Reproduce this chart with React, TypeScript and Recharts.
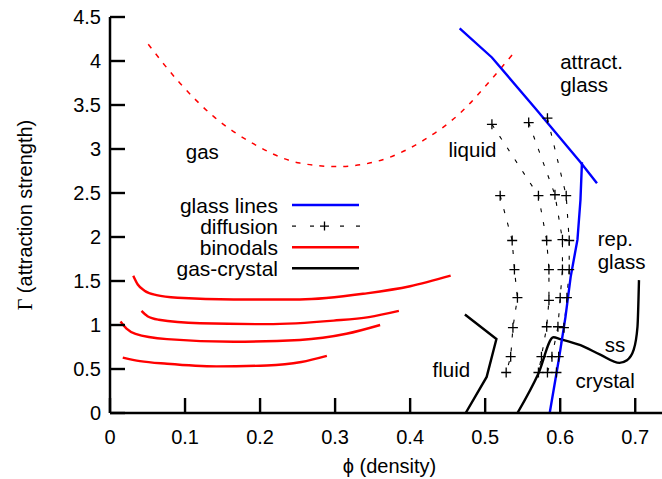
import React from 'react';
import { LineChart, Line, XAxis, YAxis, ReferenceDot, Legend } from 'recharts';

const FONT = '"Liberation Sans", Arial, Helvetica, sans-serif';
const FS = 20;
const FS_LEGEND = 21;
const FS_REGION = 20.5;

// ---- ticks ----
const xTicks = [0, 0.1, 0.2, 0.3, 0.4, 0.5, 0.6, 0.7];
const xTickLabels = ['0', '0.1', '0.2', '0.3', '0.4', '0.5', '0.6', '0.7'];
const yTicks = [0, 0.5, 1, 1.5, 2, 2.5, 3, 3.5, 4, 4.5];
const yTickLabels = ['0', '0.5', '1', '1.5', '2', '2.5', '3', '3.5', '4', '4.5'];

// ---- series (phi, Gamma) ----
const glassAttractive: [number, number][] = [
  [0.466, 4.37], [0.509, 4.04], [0.567, 3.46], [0.627, 2.85], [0.649, 2.61],
];
const glassRepulsive: [number, number][] = [
  [0.629, 2.85], [0.627, 2.42], [0.623, 1.97], [0.614, 1.55], [0.607, 1.09], [0.598, 0.6], [0.586, 0],
];
const diffusionA: [number, number][] = [
  [0.52, 2.47], [0.536, 1.96], [0.539, 1.63], [0.543, 1.31], [0.537, 0.97], [0.534, 0.64], [0.528, 0.46],
];
const diffusionB: [number, number][] = [
  [0.509, 3.28], [0.571, 2.47], [0.582, 1.96], [0.585, 1.63], [0.585, 1.28], [0.582, 0.98], [0.575, 0.64], [0.571, 0.46],
];
const diffusionC: [number, number][] = [
  [0.558, 3.3], [0.593, 2.48], [0.603, 1.97], [0.603, 1.63], [0.6, 1.31], [0.597, 0.98], [0.589, 0.64], [0.583, 0.46],
];
const diffusionD: [number, number][] = [
  [0.583, 3.35], [0.608, 2.47], [0.612, 1.96], [0.612, 1.63], [0.609, 1.31], [0.605, 0.97], [0.598, 0.64], [0.595, 0.46],
];
const binodal1: [number, number][] = [
  [0.031, 1.56], [0.037, 1.46], [0.046, 1.39], [0.062, 1.34], [0.09, 1.31], [0.165, 1.29], [0.253, 1.29], [0.342, 1.36], [0.4, 1.44], [0.454, 1.56],
];
const binodal2: [number, number][] = [
  [0.042, 1.16], [0.05, 1.1], [0.065, 1.06], [0.12, 1.02], [0.209, 1.01], [0.298, 1.05], [0.345, 1.09], [0.385, 1.16],
];
const binodal3: [number, number][] = [
  [0.014, 1.04], [0.022, 0.96], [0.034, 0.9], [0.076, 0.84], [0.165, 0.81], [0.253, 0.83], [0.315, 0.9], [0.36, 1.0],
];
const binodal4: [number, number][] = [
  [0.017, 0.63], [0.04, 0.59], [0.076, 0.56], [0.142, 0.53], [0.209, 0.54], [0.255, 0.58], [0.289, 0.65],
];
const gasSpinodal: [number, number][] = [
  [0.051, 4.19], [0.093, 3.75], [0.138, 3.37], [0.191, 3.06], [0.253, 2.84], [0.302, 2.8], [0.356, 2.86], [0.418, 3.1], [0.467, 3.41], [0.507, 3.78], [0.54, 4.11],
];
const fluidBoundary: [number, number][] = [
  [0.473, 1.12], [0.515, 0.84], [0.502, 0.41], [0.474, 0],
];
const crystalBoundary: [number, number][] = [
  [0.543, 0], [0.571, 0.45], [0.591, 0.86], [0.6, 0.84], [0.627, 0.77], [0.654, 0.66], [0.679, 0.57], [0.689, 0.6], [0.698, 0.72], [0.703, 0.98], [0.705, 1.51],
];

type RegionLabel = { text: string; x: number; y: number; anchor: 'start' | 'middle' | 'end' };
const regionLabels: RegionLabel[] = [
  { text: 'gas', x: 0.123, y: 2.977, anchor: 'middle' },
  { text: 'liquid', x: 0.483, y: 2.99, anchor: 'middle' },
  { text: 'attract.', x: 0.6, y: 3.994, anchor: 'start' },
  { text: 'glass', x: 0.6, y: 3.733, anchor: 'start' },
  { text: 'rep.', x: 0.65, y: 1.983, anchor: 'start' },
  { text: 'glass', x: 0.65, y: 1.722, anchor: 'start' },
  { text: 'fluid', x: 0.455, y: 0.489, anchor: 'middle' },
  { text: 'ss', x: 0.673, y: 0.784, anchor: 'middle' },
  { text: 'crystal', x: 0.66, y: 0.375, anchor: 'middle' },
];

const toPts = (arr: [number, number][]) => arr.map(([x, y]) => ({ x, y }));

const TICK = 15;

const BottomTick = (props: any) => {
  const { x, y, index } = props;
  return (
    <g>
      <line x1={x} y1={y} x2={x} y2={y - TICK} stroke="#000" strokeWidth={2.4} />
      <text x={x} y={y + 24} textAnchor="middle" dominantBaseline="central" fontSize={FS} fontFamily={FONT} fill="#000">
        {xTickLabels[index]}
      </text>
    </g>
  );
};
const TopTick = (props: any) => {
  const { x, y } = props;
  return <line x1={x} y1={y} x2={x} y2={y + TICK} stroke="#000" strokeWidth={2.4} />;
};
const LeftTick = (props: any) => {
  const { x, y, index } = props;
  return (
    <g>
      <line x1={x} y1={y} x2={x + TICK} y2={y} stroke="#000" strokeWidth={2.4} />
      <text x={x - 9} y={y} textAnchor="end" dominantBaseline="central" fontSize={FS} fontFamily={FONT} fill="#000">
        {yTickLabels[index]}
      </text>
    </g>
  );
};
const RightTick = (props: any) => {
  const { x, y } = props;
  return <line x1={x} y1={y} x2={x - TICK} y2={y} stroke="#000" strokeWidth={2.4} />;
};

const PlusDot = (props: any) => {
  const { cx, cy, index } = props;
  if (cx == null || cy == null) return null;
  return (
    <path key={`p-${index}-${cx}`} d={`M${cx - 5},${cy}h10M${cx},${cy - 5}v10`} stroke="#000" strokeWidth={1.3} fill="none" />
  );
};

const makeRegionLabel = (l: RegionLabel) => (p: any) => {
  const vb = p.viewBox || { x: 0, y: 0, width: 0, height: 0 };
  return (
    <text x={vb.x + vb.width / 2} y={vb.y + vb.height / 2} textAnchor={l.anchor} dominantBaseline="central" fontSize={FS_REGION} fontFamily={FONT} fill="#000">
      {l.text}
    </text>
  );
};

const legendRows = [
  { name: 'glass lines', color: '#0000ff', kind: 'solid' },
  { name: 'diffusion', color: '#000000', kind: 'diff' },
  { name: 'binodals', color: '#ff0000', kind: 'solid' },
  { name: 'gas-crystal', color: '#000000', kind: 'solid' },
];

const LegendBox = () => (
  <svg width={370} height={100} style={{ display: 'block', overflow: 'visible' }}>
    {legendRows.map((r, i) => {
      const cy = 15 + i * 21.1;
      return (
        <g key={r.name}>
          <text x={278} y={cy} textAnchor="end" dominantBaseline="central" fontSize={FS_LEGEND} fontFamily={FONT} fill="#000">
            {r.name}
          </text>
          {r.kind === 'solid' ? (
            <line x1={292} y1={cy} x2={359} y2={cy} stroke={r.color} strokeWidth={2.4} />
          ) : (
            <g stroke="#000" strokeWidth={1.2}>
              <line x1={292} y1={cy} x2={296} y2={cy} />
              <line x1={310} y1={cy} x2={314} y2={cy} />
              <line x1={340} y1={cy} x2={344} y2={cy} />
              <line x1={356} y1={cy} x2={360} y2={cy} />
              <path d={`M${320},${cy}h9M${324.5},${cy - 4.5}v9`} strokeWidth={1.3} />
            </g>
          )}
        </g>
      );
    })}
  </svg>
);

export default function App() {
  const common = { xAxisId: 'b', yAxisId: 'l', dataKey: 'y', isAnimationActive: false, activeDot: false as const, legendType: 'none' as const };
  return (
    <div style={{ position: 'absolute', left: 0, top: 0, width: 662, height: 479, overflow: 'hidden', background: '#fff' }}>
      <LineChart width={700} height={479} margin={{ top: 17, right: 31, bottom: 0, left: 0 }}>
        <XAxis
          xAxisId="b"
          type="number"
          dataKey="x"
          domain={[0, 0.745]}
          ticks={xTicks}
          allowDataOverflow
          orientation="bottom"
          height={66}
          tickSize={0}
          tickMargin={0}
          tickLine={false}
          axisLine={{ stroke: '#000', strokeWidth: 2.5 }}
          tick={<BottomTick />}
          interval={0}
          label={{
            content: (p: any) => {
              const vb = p.viewBox;
              return (
                <text x={vb.x + vb.width / 2} y={vb.y + 53} textAnchor="middle" dominantBaseline="central" fontSize={FS} fontFamily={FONT} fill="#000">
                  ϕ (density)
                </text>
              );
            },
          }}
        />
        <XAxis
          xAxisId="t"
          type="number"
          dataKey="x"
          domain={[0, 0.745]}
          ticks={xTicks}
          allowDataOverflow
          orientation="top"
          height={0}
          tickSize={0}
          tickMargin={0}
          tickLine={false}
          axisLine={{ stroke: '#000', strokeWidth: 2.5 }}
          tick={<TopTick />}
          interval={0}
        />
        <YAxis
          yAxisId="l"
          type="number"
          domain={[0, 4.5]}
          ticks={yTicks}
          allowDataOverflow
          orientation="left"
          width={110}
          tickSize={0}
          tickMargin={0}
          tickLine={false}
          axisLine={{ stroke: '#000', strokeWidth: 2.5 }}
          tick={<LeftTick />}
          interval={0}
          label={{
            content: (p: any) => {
              const vb = p.viewBox;
              const cx = 25;
              const cy = vb.y + vb.height / 2;
              return (
                <text x={cx} y={cy} transform={`rotate(-90 ${cx} ${cy})`} textAnchor="middle" dominantBaseline="central" fontSize={FS} fontFamily={FONT} fill="#000">
                  <tspan fontFamily='"Liberation Serif", "Times New Roman", serif'>Γ</tspan> (attraction strength)
                </text>
              );
            },
          }}
        />
        <YAxis
          yAxisId="r"
          type="number"
          domain={[0, 4.5]}
          ticks={yTicks}
          allowDataOverflow
          orientation="right"
          width={0}
          tickSize={0}
          tickMargin={0}
          tickLine={false}
          axisLine={{ stroke: '#000', strokeWidth: 2.5 }}
          tick={<RightTick />}
          interval={0}
        />
        <Legend
          layout="horizontal"
          verticalAlign="middle"
          align="center"
          content={() => <LegendBox />}
          wrapperStyle={{ left: 0, top: 190, width: 370, height: 100 }}
        />

        <Line {...common} data={toPts(binodal1)} type="monotone" stroke="#ff0000" strokeWidth={2.4} dot={false} />
        <Line {...common} data={toPts(binodal2)} type="monotone" stroke="#ff0000" strokeWidth={2.4} dot={false} />
        <Line {...common} data={toPts(binodal3)} type="monotone" stroke="#ff0000" strokeWidth={2.4} dot={false} />
        <Line {...common} data={toPts(binodal4)} type="monotone" stroke="#ff0000" strokeWidth={2.4} dot={false} />
        <Line {...common} data={toPts(gasSpinodal)} type="monotone" stroke="#ff0000" strokeWidth={1.5} strokeDasharray="5 7" dot={false} />

        <Line {...common} data={toPts(diffusionA)} type="linear" stroke="#000" strokeWidth={1.1} strokeDasharray="4 10" dot={PlusDot} />
        <Line {...common} data={toPts(diffusionB)} type="linear" stroke="#000" strokeWidth={1.1} strokeDasharray="4 10" dot={PlusDot} />
        <Line {...common} data={toPts(diffusionC)} type="linear" stroke="#000" strokeWidth={1.1} strokeDasharray="4 10" dot={PlusDot} />
        <Line {...common} data={toPts(diffusionD)} type="linear" stroke="#000" strokeWidth={1.1} strokeDasharray="4 10" dot={PlusDot} />

        <Line {...common} data={toPts(fluidBoundary)} type="linear" stroke="#000" strokeWidth={2.4} dot={false} />
        <Line {...common} data={toPts(crystalBoundary)} type="monotone" stroke="#000" strokeWidth={2.4} dot={false} />

        <Line {...common} data={toPts(glassAttractive)} type="linear" stroke="#0000ff" strokeWidth={2.4} dot={false} />
        <Line {...common} data={toPts(glassRepulsive)} type="linear" stroke="#0000ff" strokeWidth={2.4} dot={false} />

        {regionLabels.map((l, i) => (
          <ReferenceDot
            key={`lbl-${i}`}
            xAxisId="b"
            yAxisId="l"
            x={l.x}
            y={l.y}
            r={1}
            fill="none"
            stroke="none"
            ifOverflow="visible"
            label={makeRegionLabel(l)}
          />
        ))}
      </LineChart>
    </div>
  );
}
